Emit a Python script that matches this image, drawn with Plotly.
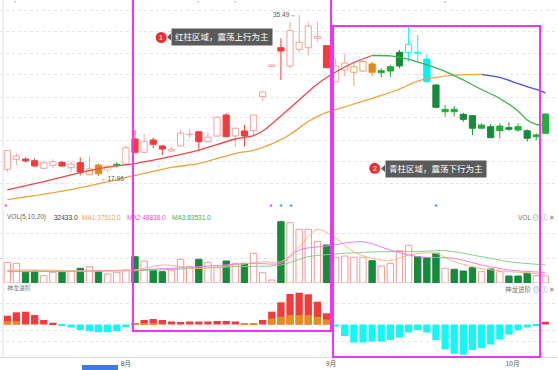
import numpy as np
import plotly.graph_objects as go

W, H = 558, 370

# ---------------- data ----------------
idx = list(range(60))
opens = [18.69, 19.78, 19.81, 19.63, 18.80, 19.13, 19.45, 18.87, 19.41, 18.10,
         19.16, 18.62, 19.14, 19.27, 21.99, 20.54, 21.88, 21.23, 20.68, 21.23,
         22.46, 22.78, 21.70, 22.32, 24.60, 22.32, 22.86, 22.89, 26.62, 29.88,
         31.93, 29.94, 31.76, 31.93, 32.95, 32.15, 28.20, 29.50, 29.25, 29.39,
         30.16, 29.21, 29.39, 29.94, 31.39, 31.43, 30.70, 27.87, 24.96, 25.22,
         24.68, 24.53, 23.16, 23.33, 22.89, 23.22, 23.33, 22.89, 22.24, 22.61]
highs = [20.79, 20.43, 19.98, 19.89, 19.52, 19.78, 19.63, 19.52, 19.98, 20.06,
         19.34, 19.24, 19.45, 21.23, 22.97, 22.53, 22.13, 21.34, 21.15, 22.97,
         23.05, 22.78, 22.68, 24.49, 24.79, 23.26, 23.51, 24.60, 27.22, 30.10,
         32.95, 34.76, 35.49, 34.76, 34.76, 32.15, 30.81, 31.24, 30.41, 30.59,
         30.41, 29.69, 30.05, 31.68, 34.22, 33.31, 31.21, 27.98, 25.69, 25.58,
         24.85, 24.53, 23.70, 23.62, 23.70, 23.81, 23.70, 23.05, 22.61, 24.71]
lows = [18.43, 19.16, 19.45, 18.97, 18.69, 18.80, 18.97, 18.43, 18.02, 18.07,
        17.96, 18.32, 18.91, 19.16, 20.43, 20.43, 20.98, 20.25, 20.57, 21.15,
        22.07, 20.79, 21.59, 22.24, 22.17, 21.15, 21.15, 22.43, 26.13, 29.83,
        28.41, 29.69, 31.39, 31.14, 32.58, 29.75, 28.14, 28.85, 27.76, 29.28,
        28.85, 28.71, 28.71, 29.69, 30.41, 30.41, 28.12, 25.36, 24.42, 24.42,
        23.87, 22.43, 23.05, 22.13, 22.07, 22.89, 22.78, 21.70, 21.88, 22.61]
closes = [20.72, 20.14, 19.60, 19.05, 19.41, 19.52, 19.05, 19.27, 18.40, 18.72,
          18.21, 19.05, 19.24, 21.04, 20.54, 21.70, 21.41, 20.90, 20.87, 22.61,
          22.53, 21.70, 22.18, 24.35, 22.24, 23.16, 22.32, 24.60, 27.11, 30.05,
          31.57, 33.78, 32.52, 34.29, 33.13, 29.75, 29.94, 30.26, 29.86, 30.41,
          29.25, 29.43, 29.86, 31.43, 32.30, 31.32, 28.23, 25.44, 25.22, 24.96,
          24.13, 23.16, 23.51, 22.13, 23.40, 23.05, 22.97, 22.07, 22.43, 24.71]
candle_style = ['p', 'p', 'r', 'r', 'p', 'p', 'r', 'p', 'r', 'o',
                'O', 'q', 'G', 'p', 'r', 'p', 'r', 'r', 'p', 'p',
                'p', 'r', 'p', 'p', 'r', 'p', 'r', 'p', 'p', 'p',
                'r', 'p', 'p', 'p', 'p', 'r', 'p', 'p', 'o', 'o',
                'O', 'G', 'G', 'g', 'c', 'c', 'C', 'g', 'G', 'G',
                'g', 'g', 'G', 'g', 'G', 'g', 'G', 'g', 'G', 'G']

# short price MA (red while rising, green while falling)
ma_s_up_idx = [0, 4, 8, 11, 14, 18, 21, 25, 27, 28, 29, 30, 32, 34, 36, 38, 40]
ma_s_up_val = [16.44, 17.36, 18.34, 18.94, 19.32, 20.09, 20.79, 21.99, 22.37, 22.86,
               23.62, 24.49, 26.24, 27.98, 29.28, 30.32, 31.08]
ma_s_dn_idx = [40, 42, 44, 46, 48, 50, 52, 54, 56, 57, 58, 59]
ma_s_dn_val = [31.08, 31.03, 30.65, 30.05, 29.36, 28.41, 27.38, 26.40, 25.04, 24.06,
               23.57, 23.41]
# long price MA (orange while rising, blue while falling)
ma_l_up_idx = [0, 7, 14, 18, 21, 25, 27, 29, 31, 33, 35, 38, 41, 43, 45, 47, 49, 51, 52]
ma_l_up_val = [15.40, 16.49, 18.02, 18.89, 19.32, 20.41, 20.76, 21.45, 22.48, 23.90,
               24.88, 25.80, 26.73, 27.43, 28.30, 28.69, 28.94, 29.00, 29.02]
ma_l_dn_idx = [52, 54, 56, 58, 59]
ma_l_dn_val = [29.02, 28.69, 28.03, 27.38, 27.00]

volumes = [95900, 91300, 49600, 55600, 33800, 49600, 49600, 55600, 68100, 75500,
           52400, 41700, 47700, 60200, 121800, 101900, 60200, 52400, 60200, 109800,
           75500, 109800, 95900, 70900, 101900, 91300, 91300, 137600, 47700, 13900,
           284000, 279400, 248800, 248800, 191300, 176100, 119100, 125100, 119100, 119100,
           103300, 78800, 91300, 149600, 174700, 121800, 117200, 137600, 68100, 63500,
           55600, 70900, 52400, 64900, 52400, 32400, 32400, 44900, 33800, 32433]
vol_style = ['h', 'h', 'g', 'g', 'h', 'h', 'g', 'h', 'g', 'h',
             'g', 'h', 'h', 'h', 'g', 'h', 'g', 'g', 'h', 'h',
             'h', 'g', 'h', 'h', 'g', 'h', 'g', 'h', 'h', 'h',
             'g', 'h', 'h', 'h', 'h', 'g', 'h', 'h', 'h', 'h',
             'g', 'h', 'h', 'h', 'h', 'g', 'g', 'g', 'h', 'g',
             'g', 'g', 'h', 'g', 'h', 'g', 'g', 'g', 'h', 'h']
vol_ma1_idx = [0, 4, 9, 14, 17, 21, 25, 28, 30, 32, 34, 36, 38, 40, 42, 44, 47, 49, 52, 55, 57, 59]
vol_ma1_val = [60200, 60200, 55600, 60200, 83400, 68100, 83400, 98700, 98700, 168200,
               248800, 208500, 143600, 114400, 103300, 129700, 137600, 98700, 67200,
               52400, 47700, 37512]
vol_ma2_idx = [0, 14, 21, 27, 30, 32, 35, 39, 42, 45, 49, 52, 55, 59]
vol_ma2_val = [52400, 60200, 75500, 91300, 91300, 152900, 171400, 191300, 152900,
               121800, 114400, 83400, 60200, 48838]
vol_ma3_idx = [0, 14, 25, 30, 33, 36, 41, 45, 48, 52, 55, 59]
vol_ma3_val = [55600, 57000, 75500, 83400, 121800, 134400, 145000, 145000, 149600,
               121800, 98700, 83531]

# 神龙进阶 indicator: bar value and its orange (lower) part
ind_val = [8.8, 12.2, 12.8, 9.5, 4.5, 1.8, -1.5, -3.0, -5.5, -6.5,
           -7.8, -7.8, -6.5, -2.8, 0.8, 4.5, 5.5, 4.5, 3.0, 2.5,
           3.0, 3.0, 3.0, 3.5, 3.5, 3.0, 0.6, 0.6, 4.5, 12.8,
           22.2, 30.5, 31.8, 30.2, 22.8, 11.2, -2.0, -11.5, -18.0, -18.0,
           -17.0, -17.0, -15.5, -13.0, -8.0, -5.5, -8.0, -15.5, -24.8, -29.3,
           -30.3, -25.5, -23.5, -20.0, -15.0, -10.2, -5.8, -3.0, -0.9, 2.7]
ind_orange = [3.3, 3.3, 0, 0, 0, 0, 0, 0, 0, 0,
              0, 0, 0, 0, 0.8, 1.5, 1.5, 0, 0, 0,
              0, 0, 0, 0, 0, 0, 0.6, 0.6, 0, 6.0,
              7.7, 9.3, 9.3, 9.3, 7.7, 5.0, 0, 0, 0, 0,
              0, 0, 0, 0, 0, 0, 0, 0, 0, 0,
              0, 0, 0, 0, 0, 0, 0, 0, 0, 0]

month_pos = [13, 35.5, 55.4]
month_labels = ['8月', '9月', '10月']
price_high_i, price_low_i = 32, 10

# ---------------- helpers ----------------
def px(x):
    return x / W

def py(y):
    return 1 - y / H

STYLE = {
    'p': ('#f4a2a2', 'white'),
    'r': ('#f33b3b', '#f33b3b'),
    'o': ('#eca65c', 'white'),
    'q': ('#f4c690', 'white'),
    'O': ('#e28a1c', '#e28a1c'),
    'G': ('#22ad3a', '#22ad3a'),
    'g': ('#178a3c', '#178a3c'),
    'c': ('#12f2f2', 'white'),
    'C': ('#00f2f2', '#00f2f2'),
}

o = np.array(opens); c = np.array(closes); hi = np.array(highs); lo = np.array(lows)
top = np.maximum(o, c); bot = np.minimum(o, c)
hgt = np.maximum(top - bot, 0.05)

fig = go.Figure()

# ---- bars first (volume, indicator, candle bodies) ----
vol = np.array(volumes)
for s, (lc, fc) in {'h': ('#f29a9a', 'white'), 'g': ('#178a3c', '#178a3c')}.items():
    ids = [i for i in idx if vol_style[i] == s]
    fig.add_trace(go.Bar(x=ids, y=vol[ids], width=0.7, yaxis='y2',
                         marker=dict(color=fc, line=dict(color=lc, width=1))))

iv = np.array(ind_val); io = np.array(ind_orange)
ids = [i for i in idx if iv[i] > 0]
fig.add_trace(go.Bar(x=ids, y=iv[ids], width=0.8, yaxis='y3',
                     marker=dict(color='#f33b3b', line=dict(width=0))))
ids = [i for i in idx if io[i] > 0]
fig.add_trace(go.Bar(x=ids, y=io[ids], width=0.8, yaxis='y3',
                     marker=dict(color='#e38f1e', line=dict(width=0))))
ids = [i for i in idx if iv[i] < 0]
fig.add_trace(go.Bar(x=ids, y=iv[ids], width=0.8, yaxis='y3',
                     marker=dict(color='#15f7f7', line=dict(width=0))))

for s, (lc, fc) in STYLE.items():
    ids = [i for i in idx if candle_style[i] == s]
    if not ids:
        continue
    fig.add_trace(go.Bar(x=ids, y=hgt[ids], base=bot[ids], width=0.68, yaxis='y',
                         marker=dict(color=fc, line=dict(color=lc, width=1))))

# ---- wicks ----
for s, (lc, fc) in STYLE.items():
    ids = [i for i in idx if candle_style[i] == s]
    if not ids:
        continue
    xs, ys = [], []
    for i in ids:
        xs += [i, i, None, i, i, None]
        ys += [top[i], hi[i], None, lo[i], bot[i], None]
    fig.add_trace(go.Scatter(x=xs, y=ys, mode='lines', yaxis='y',
                             line=dict(color=lc, width=1)))

# ---- price MAs ----
for xs, ys, col in [(ma_l_up_idx, ma_l_up_val, '#eea23e'),
                    (ma_l_dn_idx, ma_l_dn_val, '#4450e8'),
                    (ma_s_up_idx, ma_s_up_val, '#f04545'),
                    (ma_s_dn_idx, ma_s_dn_val, '#3cb44a')]:
    fig.add_trace(go.Scatter(x=xs, y=ys, mode='lines', yaxis='y',
                             line=dict(color=col, width=1.3, shape='spline', smoothing=0.8)))

# ---- volume MAs ----
for xs, ys, col in [(vol_ma3_idx, vol_ma3_val, '#86d090'),
                    (vol_ma2_idx, vol_ma2_val, '#f27af2'),
                    (vol_ma1_idx, vol_ma1_val, '#f6b97c')]:
    fig.add_trace(go.Scatter(x=xs, y=ys, mode='lines', yaxis='y2',
                             line=dict(color=col, width=1, shape='spline', smoothing=0.8)))

fig.update_traces(showlegend=False, hoverinfo='skip')

# ---------------- layout ----------------
VOL_PER_PX = 4633
main_grid = [36.03, 33.64, 31.35, 28.96, 26.56, 24.28, 21.88, 19.49, 17.20]
vol_grid = [(283 - 233) * VOL_PER_PX, (283 - 258) * VOL_PER_PX]
ind_grid = [21.5, -5.5, -16.5]

grid = dict(showgrid=True, gridcolor='#e4e4e4', griddash='dot', gridwidth=1,
            zeroline=False, showticklabels=False, ticks='', showline=False)

fig.update_layout(
    width=W, height=H, margin=dict(l=0, r=0, t=0, b=0),
    paper_bgcolor='white', plot_bgcolor='white',
    barmode='overlay', showlegend=False,
    font=dict(family='Liberation Sans, Noto Sans CJK SC, sans-serif', size=7, color='#666'),
    xaxis=dict(range=[-0.80, 60.38], anchor='y3', showgrid=False, zeroline=False,
               showline=True, linecolor='#dcdcdc', linewidth=1,
               tickvals=month_pos, ticktext=month_labels, ticks='',
               tickfont=dict(size=6.5, color='#555'), ticklabelstandoff=0),
    yaxis=dict(domain=[py(200), 1], range=[15.35, 37.12], tickvals=main_grid, **grid),
    yaxis2=dict(domain=[py(283), py(212)], range=[0, (283 - 212) * VOL_PER_PX],
                tickvals=vol_grid, anchor='x', **grid),
    yaxis3=dict(domain=[py(357), py(285)], range=[-32.5, 39.5], tickvals=ind_grid,
                anchor='x', **grid),
)

shapes = []
# left border
shapes.append(dict(type='line', xref='paper', yref='paper', x0=px(3), x1=px(3),
                   y0=py(357), y1=1, line=dict(color='#e0e0e0', width=1)))
# magenta highlight boxes
MAG = '#f233f2'
shapes.append(dict(type='rect', xref='x', yref='paper', x0=13.78, x1=35.49,
                   y0=py(331), y1=1.05, line=dict(color=MAG, width=2)))
shapes.append(dict(type='rect', xref='x', yref='paper', x0=35.71, x1=58.41,
                   y0=py(357), y1=py(26), line=dict(color=MAG, width=2)))
# callout circles and pointers
for cx, cy in [(161.2, 37.5), (374.7, 168.3)]:
    shapes.append(dict(type='circle', xref='paper', yref='paper',
                       x0=px(cx - 5.5), x1=px(cx + 5.5), y0=py(cy + 5.5), y1=py(cy - 5.5),
                       fillcolor='#ea2f2f', line=dict(width=0)))
for bx, by in [(171.0, 37.0), (385.0, 168.5)]:
    shapes.append(dict(type='path', xref='paper', yref='paper',
                       path=f'M {px(bx)} {py(by - 3.5)} L {px(bx - 4)} {py(by)} L {px(bx)} {py(by + 3.5)} Z',
                       fillcolor='#5a5a5a', line=dict(width=0)))
# bottom scroller bar
shapes.append(dict(type='rect', xref='paper', yref='paper', x0=px(82), x1=px(118),
                   y0=py(372), y1=py(365), fillcolor='#3d7be0', line=dict(width=0)))
fig.update_layout(shapes=shapes)

ann = []
def txt(x, y, s, color='#666', size=6.5, xanchor='left', **kw):
    ann.append(dict(xref='paper', yref='paper', x=px(x), y=py(y), text=s, showarrow=False,
                    xanchor=xanchor, yanchor='middle', font=dict(size=size, color=color), **kw))

# volume legend
txt(5, 217, 'VOL(5,10,20)', '#666')
txt(52, 217, f'{volumes[-1]:.1f}', '#333')
txt(80, 217, f'MA1:{vol_ma1_val[-1]:.1f}', '#f0a24e')
txt(125, 217, f'MA2:{vol_ma2_val[-1]:.1f}', '#e64fe6')
txt(170, 217, f'MA3:{vol_ma3_val[-1]:.1f}', '#3cb050')
txt(557, 217, 'VOL ⊙ ⓘ ✕', '#777', 6.5, xanchor='right')
txt(5, 288, '神龙进阶', '#777', 6)
txt(557, 289, '神龙进阶 ⊙ ⓘ ✕', '#777', 6.5, xanchor='right')

# callouts
txt(171, 37, '红柱区域，震荡上行为主', 'white', 8.5, bgcolor='#5a5a5a', borderpad=3)
txt(385, 168.5, '青柱区域，震荡下行为主', 'white', 8.5, bgcolor='#5a5a5a', borderpad=3)
txt(161.2, 37.5, '1', 'white', 7, xanchor='center')
txt(374.7, 168.3, '2', 'white', 7, xanchor='center')

# event markers
for x, col in [(5, '#f050c8'), (270, '#f050f0'), (280, '#4f86f7'), (290, '#4f86f7'), (435, '#4f86f7')]:
    txt(x, 205, '◂', col, 6, xanchor='center')
for x in [15, 198, 235, 445]:
    txt(x, 1.5, '▾', '#8ab4f8', 4, xanchor='center')

# high / low labels (data positioned)
ann.append(dict(xref='x', yref='y', x=price_high_i, y=highs[price_high_i],
                text=f'{highs[price_high_i]:.2f}→', showarrow=False, xanchor='right',
                yanchor='middle', xshift=-1, font=dict(size=6.5, color='#555')))
ann.append(dict(xref='x', yref='y', x=price_low_i, y=lows[price_low_i],
                text=f'←{lows[price_low_i]:.2f}', showarrow=False, xanchor='left',
                yanchor='middle', yshift=-2, font=dict(size=6.5, color='#555')))
fig.update_layout(annotations=ann)

fig.write_html('out.html', config={'displayModeBar': False},
               post_script="document.body.style.margin='0';document.body.style.padding='0';"
                           "document.documentElement.style.overflow='hidden';")
